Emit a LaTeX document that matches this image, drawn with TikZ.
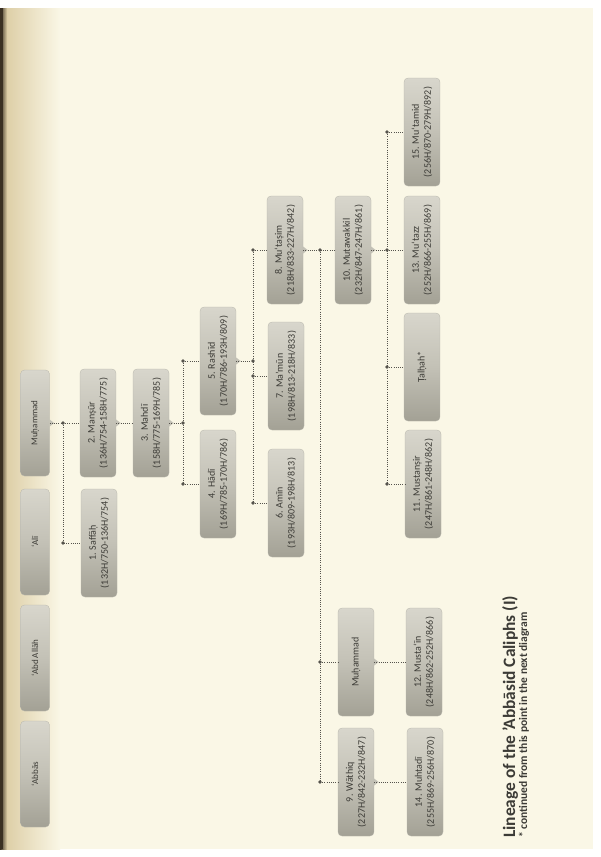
\documentclass[tikz,border=0pt]{standalone}
\usepackage{fontspec}
\setmainfont{Carlito}
\usetikzlibrary{calc}
\definecolor{paper}{HTML}{FAF7E6}
\definecolor{tan}{HTML}{DCCDA4}
\definecolor{binding}{HTML}{3A3022}
\definecolor{boxlight}{HTML}{D8D6CC}
\definecolor{boxmid}{HTML}{C3C1B6}
\definecolor{boxdark}{HTML}{A3A195}
\definecolor{ink}{HTML}{3C3B36}
\definecolor{conncol}{HTML}{55534C}
\tikzset{
  gbox/.style={rounded corners=4pt, rotate=90, minimum width=108pt, minimum height=36pt,
    inner sep=1pt, align=center, text=ink, top color=boxlight, bottom color=boxdark,
    middle color=boxmid, font=\fontsize{10}{12}\selectfont, draw=boxdark!80, line width=0.3pt},
  gtab/.style={gbox, minimum width=106pt, minimum height=29pt, font=\fontsize{9}{10}\selectfont},
  conn/.style={draw=conncol, line width=0.8pt, dash pattern=on 0.9pt off 1.3pt},
  jdot/.style={fill=conncol},
  ptr/.style={fill=boxmid}
}
\begin{document}
\begin{tikzpicture}[x=1pt,y=-1pt]
\useasboundingbox (0,0) rectangle (600,857);
% paper
\fill[white!97!paper] (0,0) rectangle (600,857);
\fill[paper] (0,8) rectangle (593,849);
\shade[left color=tan, right color=paper] (4,8) rectangle (60,849);
\shade[left color=binding, right color=tan] (0,8) rectangle (7,849);
\fill[binding] (0,8) rectangle (2.5,849);
% tabs
\node[gtab] (tabb) at (35,774) {‘Abbās};
\node[gtab] (tabd) at (35,658) {‘Abd Allāh};
\node[gtab] (tali) at (35,542) {‘Alī};
\node[gtab] (tmuh) at (35,423) {Muḥammad};
% caliphs
\node[gbox] (saf) at (99,543) {1. Saffāḥ\\(132H/750-136H/754)};
\node[gbox] (man) at (98,423) {2. Manṣūr\\(136H/754-158H/775)};
\node[gbox] (mah) at (151,423) {3. Mahdī\\(158H/775-169H/785)};
\node[gbox] (had) at (218,484) {4. Hādī\\(169H/785-170H/786)};
\node[gbox] (ras) at (218,361) {5. Rashīd\\(170H/786-193H/809)};
\node[gbox] (ami) at (286,503) {6. Amīn\\(193H/809-198H/813)};
\node[gbox] (mam) at (286,376) {7. Ma’mūn\\(198H/813-218H/833)};
\node[gbox] (mts) at (285,250) {8. Mu‘taṣim\\(218H/833-227H/842)};
\node[gbox] (wat) at (356,782) {9. Wāthiq\\(227H/842-232H/847)};
\node[gbox] (mhd) at (356,662) {Muḥammad};
\node[gbox] (mtw) at (353,250) {10. Mutawakkil\\(232H/847-247H/861)};
\node[gbox] (msr) at (423,484) {11. Mustanṣir\\(247H/861-248H/862)};
\node[gbox] (tal) at (422,367) {Ṭalḥah*};
\node[gbox] (mtz) at (422,250) {13. Mu‘tazz\\(252H/866-255H/869)};
\node[gbox] (mtm) at (422,132) {15. Mu‘tamid\\(256H/870-279H/892)};
\node[gbox] (msn) at (424,662) {12. Musta‘īn\\(248H/862-252H/866)};
\node[gbox] (mht) at (425,782) {14. Muhtadī\\(255H/869-256H/870)};
% title
\node[rotate=90, anchor=base west, inner sep=0pt, text=ink, font=\fontsize{17.4}{19}\selectfont\bfseries] (title) at (515,838) {Lineage of the 'Abbāsid Caliphs (I)};
\node[rotate=90, anchor=base west, inner sep=0pt, text=ink, font=\fontsize{11.5}{13}\selectfont\bfseries] (sub) at (527,838) {* continued from this point in the next diagram};
% junction columns
\coordinate (x1) at (63,0);
\coordinate (x3) at (183,0);
\coordinate (x4) at (253,0);
\coordinate (x5) at (320,0);
\coordinate (x6) at (387,0);
% pointers
\foreach \p in {tmuh,man,mah,ras,mts,mtw,wat,mhd}{
  \fill[ptr] ([yshift=3.5pt]\p.south) -- ([xshift=4.5pt]\p.south) -- ([yshift=-3.5pt]\p.south) -- cycle;
}
% connectors
\draw[conn] (tmuh.south) -- (man.north);
\draw[conn] (x1|-man.north) -- (x1|-saf.north) -- (saf.north);
\draw[conn] (man.south) -- (mah.north);
\draw[conn] (mah.south) -- (x3|-mah.south);
\draw[conn] (x3|-ras.north) -- (x3|-had.north);
\draw[conn] (x3|-ras.north) -- (ras.north);
\draw[conn] (x3|-had.north) -- (had.north);
\draw[conn] (ras.south) -- (x4|-ras.south);
\draw[conn] (x4|-mts.north) -- (x4|-ami.north);
\draw[conn] (x4|-mts.north) -- (mts.north);
\draw[conn] (x4|-mam.north) -- (mam.north);
\draw[conn] (x4|-ami.north) -- (ami.north);
\draw[conn] (mts.south) -- (mtw.north);
\draw[conn] (x5|-mtw.north) -- (x5|-wat.north);
\draw[conn] (x5|-mhd.north) -- (mhd.north);
\draw[conn] (x5|-wat.north) -- (wat.north);
\draw[conn] (mtw.south) -- (mtz.north);
\draw[conn] (x6|-mtm.north) -- (x6|-msr.north);
\draw[conn] (x6|-mtm.north) -- (mtm.north);
\draw[conn] (x6|-tal.north) -- (tal.north);
\draw[conn] (x6|-msr.north) -- (msr.north);
\draw[conn] (mhd.south) -- (msn.north);
\draw[conn] (wat.south) -- (mht.north);
% dots
\foreach \c in {x1|-man.north, x1|-saf.north, x3|-mah.south, x3|-ras.north, x3|-had.north,
  x4|-ras.south, x4|-mts.north, x4|-mam.north, x4|-ami.north,
  x5|-mtw.north, x5|-mhd.north, x5|-wat.north,
  x6|-mtm.north, x6|-mtz.north, x6|-tal.north, x6|-msr.north}{
  \fill[jdot] (\c) circle (1.8pt);
}
\end{tikzpicture}
\end{document}
